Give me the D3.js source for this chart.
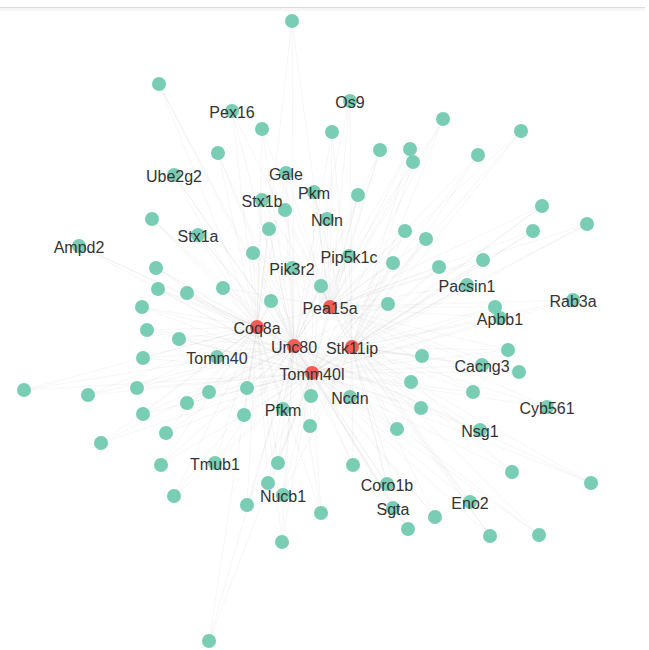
<!DOCTYPE html>
<html>
<head>
<meta charset="utf-8">
<script src="https://cdn.jsdelivr.net/npm/d3@7"></script>
<style>
  html, body { margin: 0; padding: 0; background: #fff; }
  svg { display: block; }
</style>
</head>
<body>
<svg id="net" width="649" height="650"></svg>
<script>
// Gene interaction network: five query genes (red) and their partners (teal).

// Node identifiers and the labels shown beside them ("" = unlabeled)
const nodeIds = [
  "Pex16","Os9","Ube2g2","Gale","Pkm","Stx1b","Ncln","Stx1a","Ampd2","Pip5k1c",
  "Pik3r2","Pacsin1","Rab3a","Pea15a","Apbb1","Coq8a","Unc80","Stk11ip","Tomm40","Cacng3",
  "Tomm40l","Ncdn","Pfkm","Cyb561","Nsg1","Tmub1","Nucb1","Coro1b","Eno2","Sgta",
  "g01","g02","g03","g04","g05","g06","g07","g08","g09","g10",
  "g11","g12","g13","g14","g15","g16","g17","g18","g19","g20",
  "g21","g22","g23","g24","g25","g26","g27","g28","g29","g30",
  "g31","g32","g33","g34","g35","g36","g37","g38","g39","g40",
  "g41","g42","g43","g44","g45","g46","g47","g48","g49","g50",
  "g51","g52","g53","g54","g55","g56","g57","g58","g59","g60",
  "g61","g62","g63","g64","g65","g66","g67","g68","g69","g70"
];
const labeledGenes = nodeIds.slice(0, 30);
const queryGenes = ["Pea15a", "Coq8a", "Unc80", "Stk11ip", "Tomm40l"];

// Layout coordinates of each node (same order as nodeIds)
const layoutX = [
  232,350,174,286,314,262,327,198,79,349,
  292,467,573,330,500,257,294,352,217,482,
  312,350,283,547,480,215,283,387,470,393,
  292,159,262,218,285,152,332,443,521,380,
  410,413,478,358,542,587,405,426,533,393,
  439,483,388,495,422,508,519,411,473,421,
  397,353,512,591,321,435,408,490,539,101,
  166,310,161,278,268,174,247,282,209,269,
  253,156,158,187,223,321,271,142,147,179,
  143,24,88,137,209,247,187,311,143,244
];
const layoutY = [
  111,101,175,173,192,200,219,235,246,256,
  268,285,300,307,318,327,346,347,357,365,
  373,397,409,407,430,463,495,484,502,508,
  21,84,129,153,210,219,132,119,131,150,
  149,162,155,195,206,224,231,239,231,263,
  267,260,304,307,356,350,372,382,392,408,
  429,465,472,483,513,517,529,536,535,443,
  433,426,465,463,483,496,505,542,641,229,
  253,268,289,293,288,286,301,307,330,339,
  358,390,395,388,392,388,403,396,414,415
];

// Which query genes each node interacts with
// P = Pea15a, C = Coq8a, U = Unc80, S = Stk11ip, T = Tomm40l
const hubCodes = { P: "Pea15a", C: "Coq8a", U: "Unc80", S: "Stk11ip", T: "Tomm40l" };
const nodeLinks = [
  "CUP","PSU","CTU","PUC","PST","CUP","PTU","CUT","CTU","PSU",
  "CPU","PST","PST","CUST","PTS","UT","ST","T","CTU","STP",
  "","TUS","CUT","STP","TSU","CTU","UTS","TSU","TSP","UTS",
  "PUC","CUT","CPU","CUT","PUT","CTU","PSU","PST","PST","PTU",
  "PSU","PUS","PST","PUT","PST","PST","PTS","PST","STP","PST",
  "PST","PTS","PSU","PST","STU","SPT","STP","TSU","TSP","TUS",
  "TSU","TUS","STP","STU","TUC","TSU","TUS","TSP","STU","CTU",
  "CTU","UTS","CTU","UTC","CUT","CTU","TUC","UTC","CUT","PCU",
  "CUP","CUT","CTU","CUT","CPU","PUS","CUT","CTU","CUT","CTU",
  "CTU","CTU","CTU","CUT","CTU","UTC","CTU","TUS","CTU","UTC"
];

const W = 649, H = 650;
const svg = d3.select("#net");

const x = d3.scaleLinear().domain([0, 649]).range([0, W]);
const y = d3.scaleLinear().domain([0, 650]).range([0, H]);

const nodes = nodeIds.map((id, i) => ({
  id,
  label: labeledGenes.includes(id) ? id : "",
  query: queryGenes.includes(id),
  lx: layoutX[i],
  ly: layoutY[i]
}));
const byId = new Map(nodes.map(n => [n.id, n]));

const links = [];
nodeIds.forEach((id, i) => {
  for (const c of nodeLinks[i]) {
    links.push({ source: byId.get(id), target: byId.get(hubCodes[c]) });
  }
});

// thin frame line along the top edge
svg.append("rect")
  .attr("x", 0).attr("y", 8).attr("width", 645).attr("height", 3)
  .attr("fill", "#f6f6f6");
svg.append("line")
  .attr("x1", 0).attr("x2", 645).attr("y1", 7.5).attr("y2", 7.5)
  .attr("stroke", "#dcdcdc").attr("stroke-width", 1.2);

// edges
svg.append("g")
  .selectAll("line")
  .data(links)
  .join("line")
  .attr("x1", d => x(d.source.lx))
  .attr("y1", d => y(d.source.ly))
  .attr("x2", d => x(d.target.lx))
  .attr("y2", d => y(d.target.ly))
  .attr("stroke", "#b4b4b4")
  .attr("stroke-opacity", 0.12)
  .attr("stroke-width", 1);

// nodes
svg.append("g")
  .selectAll("circle")
  .data(nodes)
  .join("circle")
  .attr("cx", d => x(d.lx))
  .attr("cy", d => y(d.ly))
  .attr("r", 7)
  .attr("fill", d => d.query ? "#f25c58" : "#78cdb4");

// labels
svg.append("g")
  .selectAll("text")
  .data(nodes.filter(d => d.label))
  .join("text")
  .attr("x", d => x(d.lx))
  .attr("y", d => y(d.ly) + 7)
  .attr("text-anchor", "middle")
  .attr("font-family", "'Liberation Sans', Arial, Helvetica, sans-serif")
  .attr("font-size", 16)
  .attr("fill", "#333")
  .text(d => d.label);
</script>
</body>
</html>
